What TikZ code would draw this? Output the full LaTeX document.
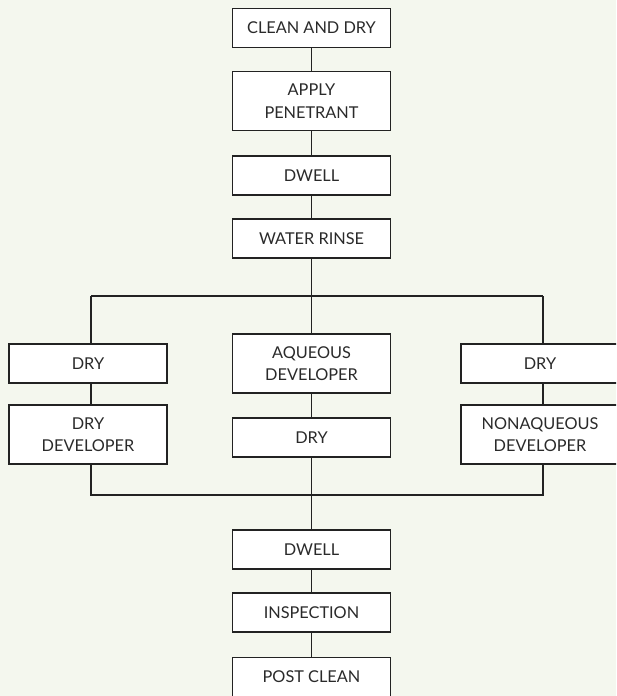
\documentclass[tikz,border=0pt]{standalone}
\usepackage{fontspec}
\setmainfont{Lato}
\definecolor{bg}{HTML}{F4F7EE}
\definecolor{ink}{HTML}{222222}
\definecolor{txt}{HTML}{2A2A2A}
\begin{document}
\begin{tikzpicture}[x=1pt,y=-1pt,
  stepbox/.style={draw=ink,fill=white,line width=1.2pt,minimum width=158pt,align=center,
    inner sep=0pt,text=txt,font=\fontsize{16.3}{22.5}\selectfont},
  one/.style={stepbox,minimum height=39pt},
  two/.style={stepbox,minimum height=59pt},
  conn/.style={draw=ink,line width=1.2pt}]
\clip (0,0) rectangle (616,696);
\fill[bg] (0,0) rectangle (616,696);
\useasboundingbox (0,0) rectangle (616,696);
% center column
\node[one] (c1) at (311.5,28) {CLEAN AND DRY};
\node[two] (c2) at (311.5,101) {APPLY\\PENETRANT};
\node[one] (c3) at (311.5,175.5) {DWELL};
\node[one] (c4) at (311.5,238.5) {WATER RINSE};
\node[two] (aq) at (311.5,363.5) {AQUEOUS\\DEVELOPER};
\node[one] (cd) at (311.5,437.5) {DRY};
\node[one] (d2) at (311.5,549.5) {DWELL};
\node[one] (ins) at (311.5,612.5) {INSPECTION};
\node[one] (pc) at (311.5,677) {POST CLEAN};
% left column
\node[one] (l1) at (88,363.5) {DRY};
\node[two] (l2) at (88,434.5) {DRY\\DEVELOPER};
% right column
\node[one] (r1) at (540,363.5) {DRY};
\node[two] (r2) at (540,434.5) {NONAQUEOUS\\DEVELOPER};
% junctions
\coordinate (st) at (311.5,296);
\coordinate (sl) at (91,296);
\coordinate (sr) at (543,296);
\coordinate (jt) at (311.5,495);
\coordinate (jl) at (91,495);
\coordinate (jr) at (543,495);
\path[conn] (c1) -- (c2);
\path[conn] (c2) -- (c3);
\path[conn] (c3) -- (c4);
\path[conn] (c4.south) -- (st);
\path[conn] (sl) -- (sr);
\path[conn] (st) -- (aq.north);
\path[conn] (sl) -- (sl |- l1.north);
\path[conn] (sr) -- (sr |- r1.north);
\path[conn] (sl |- l1.south) -- (sl |- l2.north);
\path[conn] (sr |- r1.south) -- (sr |- r2.north);
\path[conn] (aq) -- (cd);
\path[conn] (sl |- l2.south) -- (jl) -- (jr) -- (sr |- r2.south);
\path[conn] (cd.south) -- (jt) -- (d2.north);
\path[conn] (d2) -- (ins);
\path[conn] (ins) -- (pc);
\end{tikzpicture}
\end{document}
